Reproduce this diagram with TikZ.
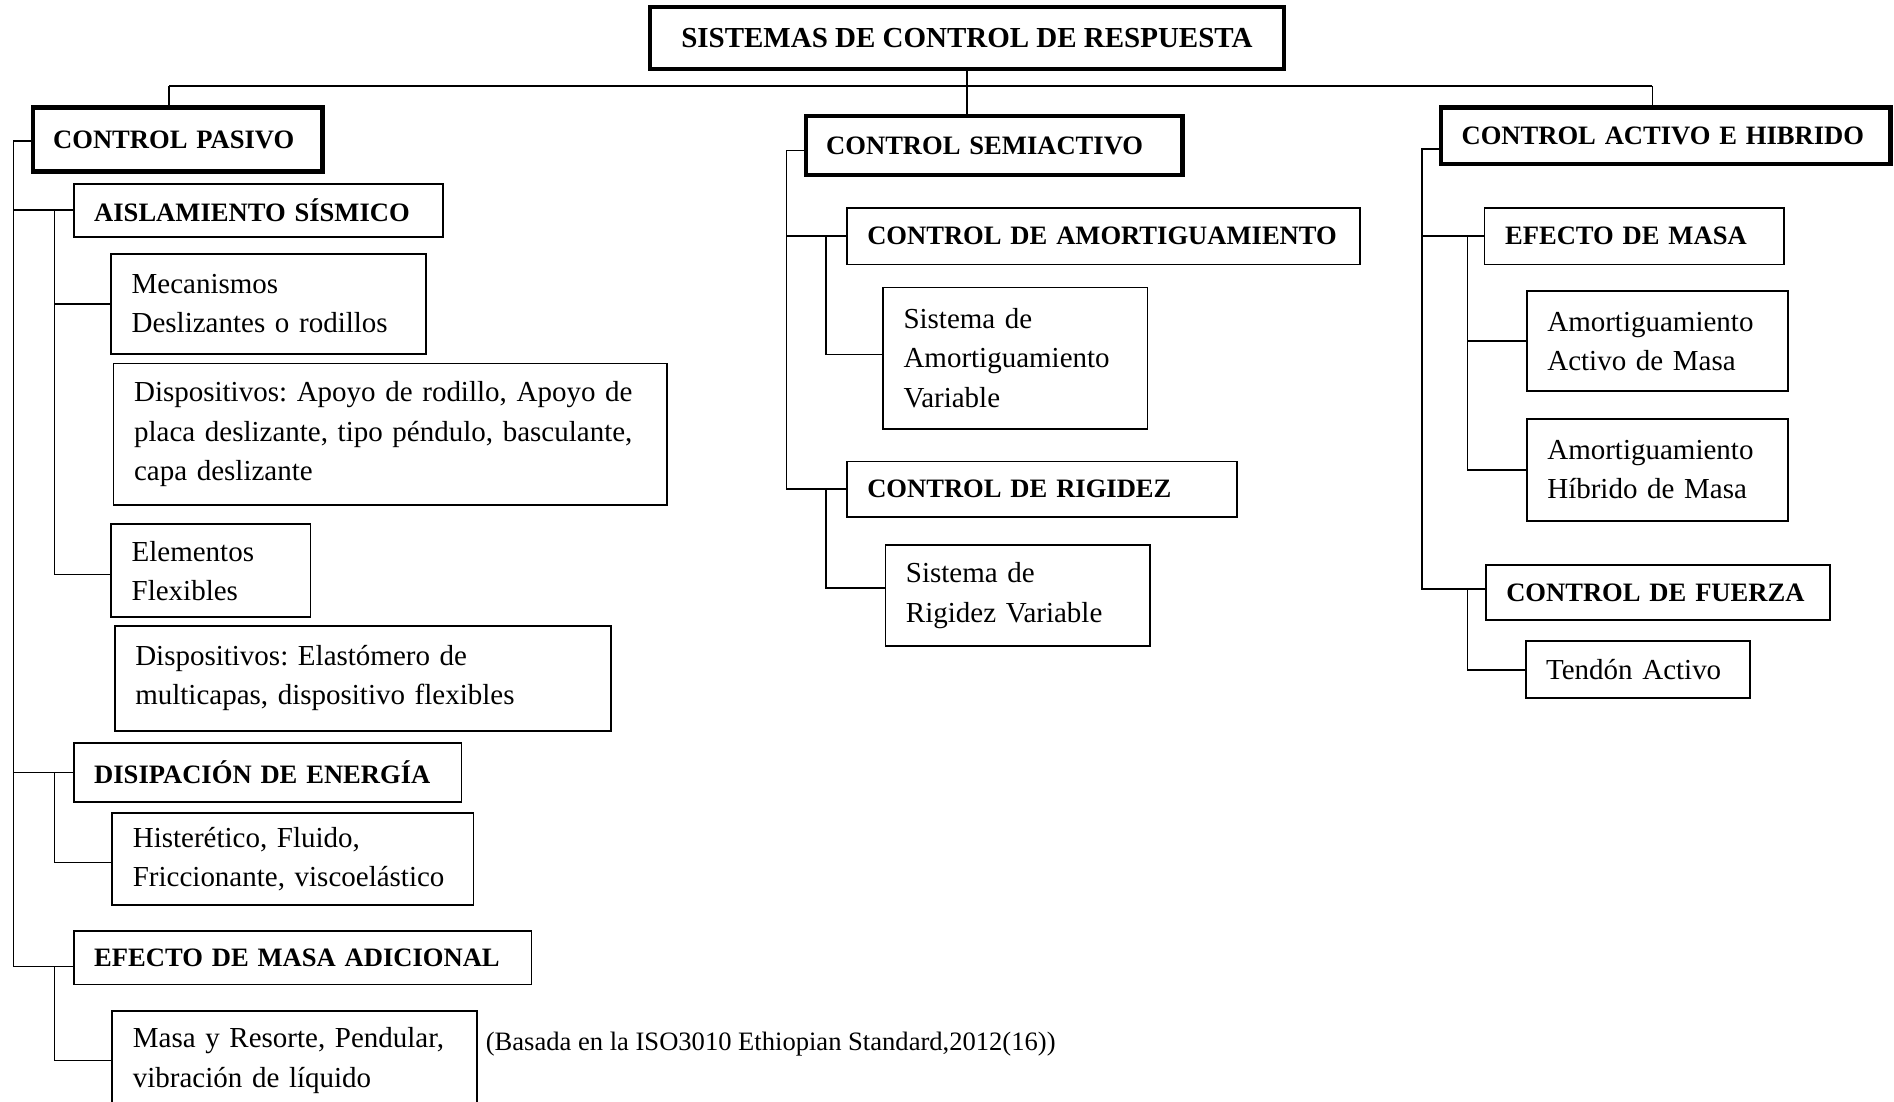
\documentclass[tikz,border=0pt]{standalone}
\usepackage{fontspec}
\setmainfont{Liberation Serif}
\begin{document}
\begin{tikzpicture}[x=1pt,y=-1pt,
  bx/.style={draw, line width=1.5pt, anchor=north west, inner xsep=17pt, inner ysep=0pt, align=left, outer sep=0pt},
  thk/.style={line width=3.5pt},
  hd/.style={bx, font=\fontsize{22}{26}\selectfont\bfseries\frenchspacing},
  tx/.style={bx, font=\fontsize{24}{32.5}\selectfont\frenchspacing},
  conn/.style={line width=1.3pt}]
\useasboundingbox (0,0) rectangle (1568,912);
\clip (0,0) rectangle (1568,912);
% title
\node[draw, thk, anchor=north west, minimum width=525pt, minimum height=51pt, inner sep=0pt, outer sep=0pt,
  font=\fontsize{24}{28}\selectfont\bfseries] (title) at (538,6) {SISTEMAS DE CONTROL DE RESPUESTA};
% left column
\node[hd, thk, minimum width=240pt, minimum height=53pt, text width=206pt] (cpas) at (27,89) {\mbox{CONTROL PASIVO}};
\node[hd, minimum width=306pt, minimum height=44pt, text width=272pt] (aisl) at (61,152) {\mbox{AISLAMIENTO SÍSMICO}};
\node[tx, minimum width=261pt, minimum height=83pt, text width=227pt] (meca) at (92,210) {\mbox{Mecanismos}\\\mbox{Deslizantes o rodillos}};
\node[tx, minimum width=458pt, minimum height=117pt, text width=424pt] (disp1) at (94,301) {\mbox{Dispositivos: Apoyo de rodillo, Apoyo de}\\\mbox{placa deslizante, tipo péndulo, basculante,}\\\mbox{capa deslizante}};
\node[tx, minimum width=165pt, minimum height=77pt, text width=131pt] (elem) at (92,434) {\mbox{Elementos}\\\mbox{Flexibles}};
\node[tx, minimum width=411pt, minimum height=87pt, text width=377pt] (disp2) at (95,518) {\mbox{Dispositivos: Elastómero de}\\\mbox{multicapas, dispositivo flexibles}};
\node[hd, minimum width=321pt, minimum height=49pt, text width=287pt] (disi) at (61,615) {\mbox{DISIPACIÓN DE ENERGÍA}};
\node[tx, minimum width=299pt, minimum height=76pt, text width=265pt] (hist) at (93,673) {\mbox{Histerético, Fluido,}\\\mbox{Friccionante, viscoelástico}};
\node[hd, minimum width=379pt, minimum height=44pt, text width=345pt] (emad) at (61,771) {\mbox{EFECTO DE MASA ADICIONAL}};
\node[tx, minimum width=302pt, minimum height=82pt, text width=268pt] (masa) at (93,837) {\mbox{Masa y Resorte, Pendular,}\\\mbox{vibración de líquido}};
\node[anchor=west, inner sep=0pt, font=\fontsize{22}{26}\selectfont] (cap) at (402,864) {(Basada en la ISO3010 Ethiopian Standard,2012(16))};
% middle column
\node[hd, thk, minimum width=312pt, minimum height=49pt, text width=278pt] (csem) at (667,96) {\mbox{CONTROL SEMIACTIVO}};
\node[hd, minimum width=425pt, minimum height=47pt, text width=391pt] (camo) at (701,172) {\mbox{CONTROL DE AMORTIGUAMIENTO}};
\node[tx, minimum width=219pt, minimum height=117pt, text width=185pt] (sam) at (731,238) {\mbox{Sistema de}\\\mbox{Amortiguamiento}\\\mbox{Variable}};
\node[hd, minimum width=323pt, minimum height=46pt, text width=289pt] (crig) at (701,382) {\mbox{CONTROL DE RIGIDEZ}};
\node[tx, minimum width=219pt, minimum height=84pt, text width=185pt] (srig) at (733,451) {\mbox{Sistema de}\\\mbox{Rigidez Variable}};
% right column
\node[hd, thk, minimum width=372pt, minimum height=47pt, text width=338pt] (cact) at (1193,89) {\mbox{CONTROL ACTIVO E HIBRIDO}};
\node[hd, minimum width=248pt, minimum height=47pt, text width=214pt] (emas) at (1229,172) {\mbox{EFECTO DE MASA}};
\node[tx, minimum width=216pt, minimum height=83pt, text width=182pt] (aam) at (1264,241) {\mbox{Amortiguamiento}\\\mbox{Activo de Masa}};
\node[tx, minimum width=216pt, minimum height=84pt, text width=182pt] (ahm) at (1264,347) {\mbox{Amortiguamiento}\\\mbox{Híbrido de Masa}};
\node[hd, minimum width=285pt, minimum height=45pt, text width=251pt] (cfue) at (1230,468) {\mbox{CONTROL DE FUERZA}};
\node[tx, minimum width=186pt, minimum height=47pt, text width=152pt] (tend) at (1263,531) {\mbox{Tendón Activo}};
% trunk coordinates
\coordinate (barL) at (140,71);
\coordinate (barR) at (1368,71);
\coordinate (tp) at (11,0);
\coordinate (sp) at (45,0);
\coordinate (sm) at (651,0);
\coordinate (sm2) at (684,0);
\coordinate (sa) at (1177,0);
\coordinate (sa2) at (1215,0);
% branch points on boxes
\coordinate (emadIn) at ([yshift=-7pt]emad.west);
\coordinate (elemIn) at ([yshift=-3pt]elem.west);
\coordinate (histIn) at ([yshift=-3pt]hist.west);
\coordinate (samIn) at ([yshift=3pt]sam.west);
\coordinate (srigIn) at ([yshift=6pt]srig.west);
\coordinate (cfueIn) at ([yshift=3pt]cfue.west);
% connectors
\begin{scope}[conn]
\draw (title.south) -- (title.south |- barL);
\draw (barL) -- (barR);
\draw (barL) -- (barL |- cpas.north);
\draw (title.south |- barL) -- (title.south |- csem.north);
\draw (barR) -- (barR |- cact.north);
% left
\draw ([yshift=-1pt]cpas.west) -| (tp |- emadIn) -- (emadIn);
\draw (tp |- aisl.west) -- (aisl.west);
\draw (tp |- disi.west) -- (disi.west);
\draw (sp |- aisl.west) -- (sp |- elemIn) -- (elemIn);
\draw (sp |- meca.west) -- (meca.west);
\draw (sp |- disi.west) -- (sp |- histIn) -- (histIn);
\draw (sp |- emadIn) -- (sp |- masa.west) -- (masa.west);
% middle
\draw ([yshift=-4pt]csem.west) -| (sm |- crig.west) -- (crig.west);
\draw (sm |- camo.west) -- (camo.west);
\draw (sm2 |- camo.west) -- (sm2 |- samIn) -- (samIn);
\draw (sm2 |- crig.west) -- (sm2 |- srigIn) -- (srigIn);
% right
\draw ([yshift=-11pt]cact.west) -| (sa |- cfueIn) -- (cfueIn);
\draw (sa |- emas.west) -- (emas.west);
\draw (sa2 |- emas.west) -- (sa2 |- ahm.west) -- (ahm.west);
\draw (sa2 |- aam.west) -- (aam.west);
\draw (sa2 |- cfueIn) -- (sa2 |- tend.west) -- (tend.west);
\end{scope}
\end{tikzpicture}
\end{document}
